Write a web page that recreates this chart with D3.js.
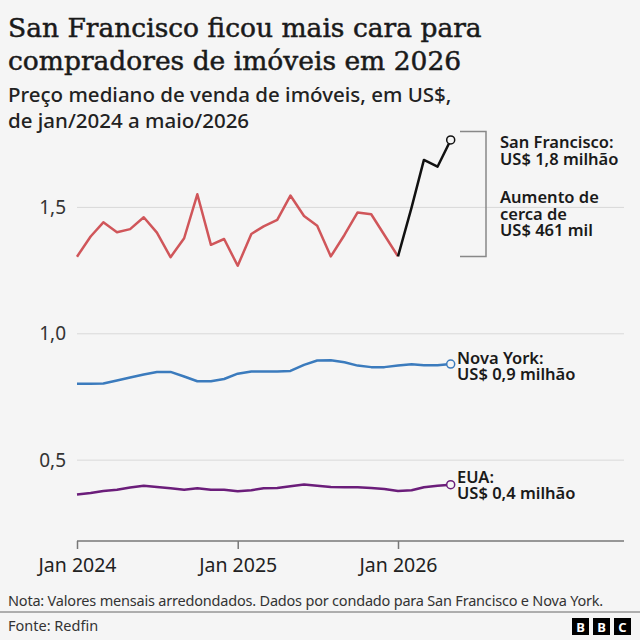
<!DOCTYPE html>
<html>
<head>
<meta charset="utf-8">
<script src="https://cdn.jsdelivr.net/npm/d3@7"></script>
<style>
  html, body { margin: 0; padding: 0; background: #f5f5f5; }
  svg { display: block; font-family: "Noto Sans", sans-serif; }
</style>
</head>
<body>
<div id="viz"></div>
<script>
const parseDate = d3.timeParse("%Y-%m");

const months = ["2024-01","2024-02","2024-03","2024-04","2024-05","2024-06","2024-07","2024-08","2024-09","2024-10","2024-11","2024-12",
                "2025-01","2025-02","2025-03","2025-04","2025-05","2025-06","2025-07","2025-08","2025-09","2025-10","2025-11","2025-12",
                "2026-01","2026-02","2026-03","2026-04","2026-05"];

const sanFrancisco = [1.305,1.385,1.441,1.402,1.414,1.461,1.400,1.303,1.378,1.552,1.352,1.375,
                      1.269,1.395,1.425,1.451,1.547,1.466,1.427,1.306,1.391,1.480,1.473,1.391,
                      1.306,1.500,1.688,1.661,1.767];
const novaYork = [0.802,0.802,0.803,0.815,0.827,0.839,0.849,0.849,0.831,0.812,0.812,0.821,
                  0.842,0.851,0.851,0.851,0.853,0.877,0.894,0.895,0.887,0.874,0.868,0.868,
                  0.874,0.879,0.875,0.875,0.880];
const eua = [0.364,0.370,0.378,0.383,0.392,0.399,0.394,0.389,0.383,0.389,0.383,0.383,
             0.377,0.381,0.389,0.390,0.397,0.404,0.399,0.394,0.393,0.393,0.390,0.386,
             0.378,0.381,0.393,0.399,0.403];

const yTicks = [0.5, 1.0, 1.5];
const xTicks = ["2024-01", "2025-01", "2026-01"];
const jumpStart = "2026-01";   // inicio do trecho em preto
const bracketTop = 1.8;

const width = 640, height = 640;
const margin = {left: 77, right: 16, top: 131.6, bottom: 99};

const svg = d3.select("#viz").append("svg")
    .attr("width", width)
    .attr("height", height);

svg.append("rect").attr("width", width).attr("height", height).attr("fill", "#f5f5f5");

// titulo
const title = svg.append("text")
    .attr("font-family", "'DejaVu Serif', serif")
    .attr("font-size", 26.5)
    .attr("fill", "#1a1a1a")
    .attr("stroke", "#1a1a1a")
    .attr("stroke-width", 0.5);
title.append("tspan").attr("x", 8).attr("y", 37).text("San Francisco ficou mais cara para");
title.append("tspan").attr("x", 8).attr("y", 70).text("compradores de imóveis em 2026");

const sub = svg.append("text")
    .attr("font-size", 20.5)
    .attr("font-weight", 500)
    .attr("fill", "#222");
sub.append("tspan").attr("x", 8).attr("y", 102).text("Preço mediano de venda de imóveis, em US$,");
sub.append("tspan").attr("x", 8).attr("y", 128).text("de jan/2024 a maio/2026");

const xScale = d3.scaleTime()
    .domain([parseDate("2024-01"), parseDate("2026-01")])
    .range([margin.left, 398]);

const yScale = d3.scaleLinear()
    .domain([0.18, 1.8])
    .range([height - margin.bottom, margin.top]);

const right = width - margin.right;

// grade
svg.append("g").selectAll("line")
    .data(yTicks)
    .enter().append("line")
        .attr("x1", margin.left)
        .attr("x2", right)
        .attr("y1", d => yScale(d))
        .attr("y2", d => yScale(d))
        .attr("stroke", "#d9d9d9")
        .attr("stroke-width", 1);

svg.append("g").selectAll("text")
    .data(yTicks)
    .enter().append("text")
        .attr("x", 66)
        .attr("y", d => yScale(d))
        .attr("dy", "0.35em")
        .attr("text-anchor", "end")
        .attr("font-size", 19)
        .attr("fill", "#333")
        .text(d => d3.format(".1f")(d).replace(".", ","));

// eixo x
const xAxis = d3.axisBottom(xScale)
    .tickValues(xTicks.map(parseDate))
    .tickFormat(d3.timeFormat("Jan %Y"))
    .tickSize(8)
    .tickPadding(9);

const gx = svg.append("g")
    .attr("transform", `translate(0, ${yScale(0.18)})`)
    .call(xAxis);
gx.select(".domain").remove();
gx.selectAll(".tick line").attr("stroke", "#777").attr("stroke-width", 1.5);
gx.selectAll(".tick text").attr("font-size", 19.5).attr("fill", "#222").attr("font-family", "'Noto Sans', sans-serif");
gx.append("line")
    .attr("x1", margin.left).attr("x2", right)
    .attr("y1", 0).attr("y2", 0)
    .attr("stroke", "#777").attr("stroke-width", 1.5);

const line = d3.line()
    .x(d => xScale(parseDate(d[0])))
    .y(d => yScale(d[1]));

const series = [
    {values: eua, color: "#6b1d7a"},
    {values: novaYork, color: "#3b7bbd"},
    {values: sanFrancisco, color: "#d0565a"}
];

const jumpIdx = months.indexOf(jumpStart);

series.forEach(s => {
    const pts = months.map((m, i) => [m, s.values[i]]);
    const isSF = s.values === sanFrancisco;
    svg.append("path")
        .datum(isSF ? pts.slice(0, jumpIdx + 1) : pts)
        .attr("fill", "none")
        .attr("stroke", s.color)
        .attr("stroke-width", 2.5)
        .attr("stroke-linejoin", "round")
        .attr("d", line);
    if (isSF) {
        svg.append("path")
            .datum(pts.slice(jumpIdx))
            .attr("fill", "none")
            .attr("stroke", "#111")
            .attr("stroke-width", 2.5)
            .attr("stroke-linejoin", "round")
            .attr("d", line);
    }
    const last = pts[pts.length - 1];
    svg.append("circle")
        .attr("cx", xScale(parseDate(last[0])))
        .attr("cy", yScale(last[1]))
        .attr("r", 4)
        .attr("fill", "#f5f5f5")
        .attr("stroke", isSF ? "#111" : s.color)
        .attr("stroke-width", 1.5);
});

// colchete do aumento
const bx1 = 460, bx2 = 486;
const yBot = yScale(sanFrancisco[jumpIdx]), yTop = yScale(bracketTop);
svg.append("path")
    .attr("d", `M${bx1},${yTop} H${bx2} V${yBot} H${bx1}`)
    .attr("fill", "none")
    .attr("stroke", "#888")
    .attr("stroke-width", 1.5);

function label(x, y, lines) {
    const t = svg.append("text")
        .attr("font-size", 16.5)
        .attr("font-weight", 600)
        .attr("fill", "#1a1a1a");
    lines.forEach((l, i) => t.append("tspan").attr("x", x).attr("y", y + i * 16.5).text(l));
}

label(500, 148, ["San Francisco:", "US$ 1,8 milhão"]);
label(500, 203, ["Aumento de", "cerca de", "US$ 461 mil"]);
label(457, yScale(novaYork[novaYork.length - 1]) - 0.5, ["Nova York:", "US$ 0,9 milhão"]);
label(457, yScale(eua[eua.length - 1]) - 2, ["EUA:", "US$ 0,4 milhão"]);

// rodape
svg.append("text")
    .attr("x", 8).attr("y", 606)
    .attr("font-size", 14.5)
    .attr("fill", "#333")
    .attr("letter-spacing", -0.2)
    .text("Nota: Valores mensais arredondados. Dados por condado para San Francisco e Nova York.");

svg.append("line")
    .attr("x1", 0).attr("x2", width)
    .attr("y1", 612).attr("y2", 612)
    .attr("stroke", "#666").attr("stroke-width", 1);

svg.append("text")
    .attr("x", 8).attr("y", 631)
    .attr("font-size", 14.5)
    .attr("fill", "#333")
    .text("Fonte: Redfin");

const bbc = svg.append("g").attr("transform", "translate(572, 618)");
["B", "B", "C"].forEach((c, i) => {
    bbc.append("rect").attr("x", i * 21).attr("y", 0).attr("width", 17).attr("height", 17).attr("fill", "#000");
    bbc.append("text").attr("x", i * 21 + 8.5).attr("y", 13.5)
        .attr("text-anchor", "middle").attr("font-size", 13).attr("font-weight", 700)
        .attr("fill", "#fff").text(c);
});
</script>
</body>
</html>
